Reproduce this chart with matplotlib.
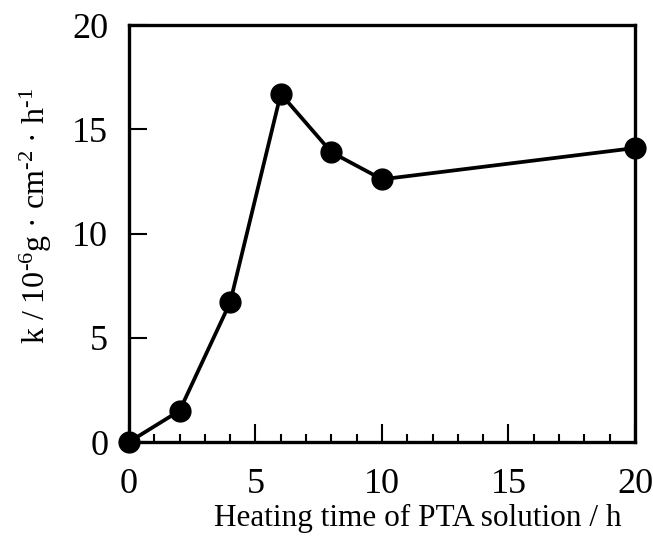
import matplotlib
matplotlib.use('Agg')
import matplotlib.pyplot as plt
from matplotlib.ticker import MultipleLocator

plt.rcParams['font.family'] = ['Liberation Serif', 'DejaVu Serif']
plt.rcParams['mathtext.fontset'] = 'custom'
plt.rcParams['mathtext.rm'] = 'Liberation Serif'
plt.rcParams['mathtext.default'] = 'regular'

# heating time (h) and rate constant k (10^-6 g cm^-2 h^-1)
heating_time = [0, 2, 4, 6, 8, 10, 20]
k_values = [0.0, 1.5, 6.7, 16.7, 13.9, 12.6, 14.1]

x_ticks = [0, 5, 10, 15, 20]
y_ticks = [0, 5, 10, 15, 20]

fig = plt.figure(figsize=(6.53, 5.38), dpi=100)
ax = fig.add_axes([0.1975, 0.1784, 0.7749, 0.7751])

ax.plot(heating_time, k_values, '-', color='black', linewidth=2.7,
        marker='o', markersize=15, markerfacecolor='black',
        markeredgecolor='black', clip_on=False, zorder=3)

ax.set_xlim(0, 20)
ax.set_ylim(0, 20)
ax.set_xticks(x_ticks)
ax.set_yticks(y_ticks)
ax.xaxis.set_minor_locator(MultipleLocator(1))

ax.tick_params(axis='both', which='both', direction='in',
               top=False, right=False, labelsize=26, width=1.5)
ax.tick_params(axis='x', which='major', length=13, pad=19)
ax.tick_params(axis='x', which='minor', length=6)
ax.tick_params(axis='y', which='major', length=13, pad=15)

for s in ax.spines.values():
    s.set_linewidth(2.4)

ax.set_xlabel('Heating time of PTA solution / h', fontsize=22.5, labelpad=2)
ax.set_ylabel('k / 10$^{\u20106}$g · cm$^{\u20102}$ · h$^{\u20101}$', fontsize=23, labelpad=13)
ax.xaxis.label.set_x(0.571)
ax.yaxis.label.set_y(0.542)

fig.savefig('out.png', dpi=100)
